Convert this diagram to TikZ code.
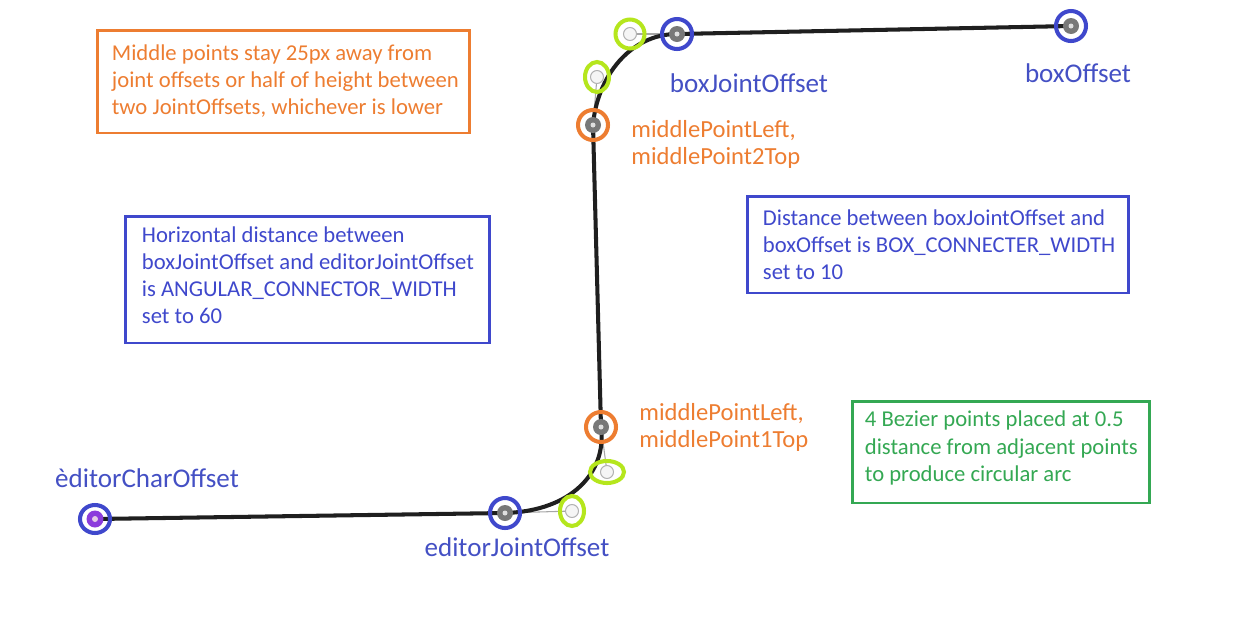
\documentclass[tikz,border=0pt]{standalone}
\usepackage{fontspec}
\setmainfont{Carlito}
\usetikzlibrary{shapes.geometric, backgrounds}

\definecolor{ringblue}{RGB}{63,72,204}
\definecolor{labelblue}{RGB}{68,80,196}
\definecolor{noteorange}{RGB}{237,125,49}
\definecolor{notegreen}{RGB}{52,168,83}
\definecolor{ctrllime}{RGB}{181,230,29}
\definecolor{dotgray}{RGB}{120,120,120}
\definecolor{charviolet}{RGB}{140,60,220}

\begin{document}
\begin{tikzpicture}[x=0.02cm, y=-0.02cm,
    notebox/.style={draw, line width=1.7pt, minimum width=#1},
    notetext/.style={align=left, anchor=west, inner sep=0pt,
                     font=\fontsize{12.9}{15.4}\selectfont},
    tag/.style={font=\fontsize{15.4}{18}\selectfont, text=labelblue},
    midtag/.style={font=\fontsize{14}{15.4}\selectfont, text=noteorange, align=left,
                   anchor=west, inner sep=0pt},
    joint/.style={circle, draw=#1, line width=2.3pt, minimum size=0.6cm, inner sep=0pt,
                  path picture={\fill[dotgray] (path picture bounding box.center) circle (0.16cm);
                                \fill[gray!25] (path picture bounding box.center) circle (0.05cm);}},
    ctrl/.style={ellipse, draw=ctrllime, line width=2.3pt, inner sep=0pt,
                 path picture={\filldraw[fill=gray!8, draw=gray!60, line width=0.6pt]
                               (path picture bounding box.center) circle (0.13cm);}},
    wire/.style={line width=2.3pt, draw=black!88},
    handle/.style={line width=0.6pt, draw=gray!70}]

  \useasboundingbox (0,0) rectangle (1241,623);

  % notes
  \node[notebox=7.46cm, draw=noteorange, minimum height=2.06cm] (midnote) at (283.5,81.5) {};
  \node[notetext, text=noteorange] (midtext) at ([xshift=0.32cm]midnote.west)
    {Middle points stay 25px away from\\ joint offsets or half of height between\\ two JointOffsets, whichever is lower};
  \node[notebox=7.3cm, draw=ringblue, minimum height=2.54cm] (angnote) at (307.5,279.5) {};
  \node[notetext, text=ringblue] (angtext) at ([xshift=0.36cm, yshift=0.08cm]angnote.west)
    {Horizontal distance between\\ boxJointOffset and editorJointOffset\\ is ANGULAR\_CONNECTOR\_WIDTH\\ set to 60};
  \node[notebox=7.64cm, draw=ringblue, minimum height=1.94cm] (boxnote) at (938,244.5) {};
  \node[notetext, text=ringblue] (boxtext) at ([xshift=0.34cm]boxnote.west)
    {Distance between boxJointOffset and\\ boxOffset is BOX\_CONNECTER\_WIDTH\\ set to 10};
  \node[notebox=5.96cm, draw=notegreen, minimum height=2.04cm] (beznote) at (1001,452) {};
  \node[notetext, text=notegreen] (beztext) at ([xshift=0.28cm, yshift=0.08cm]beznote.west)
    {4 Bezier points placed at 0.5\\ distance from adjacent points\\ to produce circular arc};

  % points
  \node[ellipse, draw=ringblue, line width=2.3pt, minimum width=0.6cm, minimum height=0.56cm,
        inner sep=0pt, path picture={\fill[charviolet] (path picture bounding box.center) circle (0.17cm);
                                     \fill[violet!20] (path picture bounding box.center) circle (0.06cm);}]
        (charoff) at (95,519) {};
  \node[joint=ringblue] (edjoint) at (505,513) {};
  \node[ctrl, minimum width=0.48cm, minimum height=0.6cm] (bez1) at (572,511) {};
  \node[ctrl, minimum width=0.68cm, minimum height=0.44cm] (bez2) at (607,472) {};
  \node[joint=noteorange] (mid1) at (601,427) {};
  \node[joint=noteorange] (mid2) at (593,125) {};
  \node[ctrl, minimum width=0.48cm, minimum height=0.6cm] (bez3) at (597,77) {};
  \node[ctrl, minimum width=0.58cm, minimum height=0.58cm] (bez4) at (630,34) {};
  \node[joint=ringblue] (bxjoint) at (677,34) {};
  \node[joint=ringblue] (bxoff) at (1071,26) {};

  % labels
  \node[tag] (charlbl) at (147,478) {èditorCharOffset};
  \node[tag] (edlbl) at (517,547) {editorJointOffset};
  \node[tag] (bxjlbl) at (749,83) {boxJointOffset};
  \node[tag] (bxolbl) at (1078,73) {boxOffset};
  \node[midtag] (mid2lbl) at (631,144.5) {middlePointLeft,\\ middlePoint2Top};
  \node[midtag] (mid1lbl) at (639,427.5) {middlePointLeft,\\ middlePoint1Top};

  % connector
  \begin{scope}[on background layer]
    \draw[handle] (edjoint.center) -- (bez1.center);
    \draw[handle] (bez2.center) -- (mid1.center);
    \draw[handle] (mid2.center) -- (bez3.center);
    \draw[handle] (bez4.center) -- (bxjoint.center);
    \draw[wire] (charoff.center) -- (edjoint.center)
      .. controls (bez1.center) and (bez2.center) .. (mid1.center)
      -- (mid2.center)
      .. controls (bez3.center) and (bez4.center) .. (bxjoint.center)
      -- (bxoff.center);
  \end{scope}
\end{tikzpicture}
\end{document}
